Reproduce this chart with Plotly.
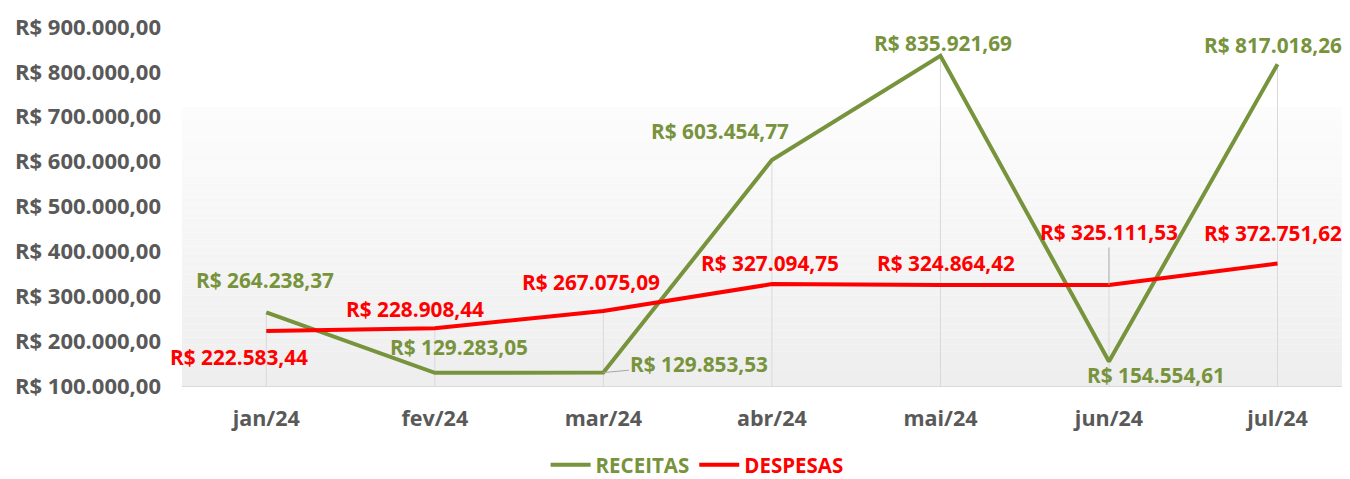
import plotly.graph_objects as go

# ---------------- data ----------------
months = ["jan/24", "fev/24", "mar/24", "abr/24", "mai/24", "jun/24", "jul/24"]
receitas = [264238.37, 129283.05, 129853.53, 603454.77, 835921.69, 154554.61, 817018.26]
despesas = [222583.44, 228908.44, 267075.09, 327094.75, 324864.42, 325111.53, 372751.62]
y_tickvals = [100000, 200000, 300000, 400000, 500000, 600000, 700000, 800000, 900000]
y_ticktext = ["R$ 100.000,00", "R$ 200.000,00", "R$ 300.000,00", "R$ 400.000,00",
              "R$ 500.000,00", "R$ 600.000,00", "R$ 700.000,00", "R$ 800.000,00",
              "R$ 900.000,00"]

# label placement offsets in pixels (dx, dy up); "arrow" -> leader line (ax, ay)
rec_offsets = [(-1, 32), (24, 26), ("arrow", 96, -9), (-52, 29), (3, 13), (47, -13), (-5, 19)]
desp_offsets = [(-27, -26), (-20, 19), (-12, 29), (-2, 21), (6, 22), ("arrow", 0, -53), (-5, 31)]

GREEN = "#77933C"
RED = "#FF0000"
GRAY_TXT = "#595959"
FONT = "Open Sans"


def brl(v):
    s = f"{v:,.2f}"
    s = s.replace(",", "X").replace(".", ",").replace("X", ".")
    return "R$ " + s


fig = go.Figure()

# drop lines
dx, dy = [], []
for m, r, d in zip(months, receitas, despesas):
    dx += [m, m, None]
    dy += [y_tickvals[0], max(r, d), None]
fig.add_trace(go.Scatter(x=dx, y=dy, mode="lines", line=dict(color="#d9d9d9", width=1),
                         showlegend=False, hoverinfo="skip"))

fig.add_trace(go.Scatter(x=months, y=receitas, mode="lines",
                         name=f"<span style='color:{GREEN}'>RECEITAS</span>",
                         line=dict(color=GREEN, width=4)))
fig.add_trace(go.Scatter(x=months, y=despesas, mode="lines",
                         name=f"<span style='color:{RED}'>DESPESAS</span>",
                         line=dict(color=RED, width=4)))

annotations = []
for vals, offs, col in ((receitas, rec_offsets, GREEN), (despesas, desp_offsets, RED)):
    for m, v, o in zip(months, vals, offs):
        base = dict(x=m, y=v, xref="x", yref="y", text=brl(v),
                    font=dict(family=FONT, size=20.8, color=col, weight="bold"))
        if o[0] == "arrow":
            base.update(showarrow=True, ax=o[1], ay=o[2], arrowhead=0, arrowwidth=1,
                        arrowcolor="#a6a6a6", standoff=0)
        else:
            base.update(showarrow=False, xshift=o[0], yshift=o[1])
        annotations.append(base)

# background gradient (white top -> light gray bottom), plot area only
shapes = []
n = 40
top = 0.777
for i in range(n):
    y0 = top * i / n
    y1 = top * (i + 1) / n
    t = i / (n - 1)
    c = int(round(0xEE + (0xFC - 0xEE) * t))
    shapes.append(dict(type="rect", xref="paper", yref="paper", x0=0, x1=1, y0=y0, y1=y1,
                       fillcolor=f"rgb({c},{c},{c})", line=dict(width=0), layer="below"))

# page body has an 8px margin: figure sized/offset to compensate
fig.update_layout(
    width=1342, height=471,
    margin=dict(l=174, r=0, t=19, b=93, autoexpand=False),
    paper_bgcolor="white", plot_bgcolor="white",
    font=dict(family=FONT, color=GRAY_TXT, size=22, weight="bold"),
    showlegend=True,
    legend=dict(orientation="h", x=0.441, xanchor="center",
                yref="container", y=0.03, yanchor="middle",
                font=dict(family=FONT, size=20.5, weight="bold"), bgcolor="rgba(0,0,0,0)",
                itemwidth=40),
    annotations=annotations,
    shapes=shapes,
)
fig.update_xaxes(range=[-0.5, 6.43], showgrid=False, showline=True, linecolor="#d9d9d9",
                 linewidth=1, ticks="", ticklabelstandoff=13, automargin=False,
                 tickfont=dict(family=FONT, size=21.5, color=GRAY_TXT, weight="bold"))
fig.update_yaxes(range=[100000, 900000], tickvals=y_tickvals, ticktext=y_ticktext,
                 showgrid=False, zeroline=False, showline=False, ticks="",
                 ticklabelstandoff=20, automargin=False,
                 tickfont=dict(family=FONT, size=22, color=GRAY_TXT, weight="bold"))

fig.write_html("out.html")
